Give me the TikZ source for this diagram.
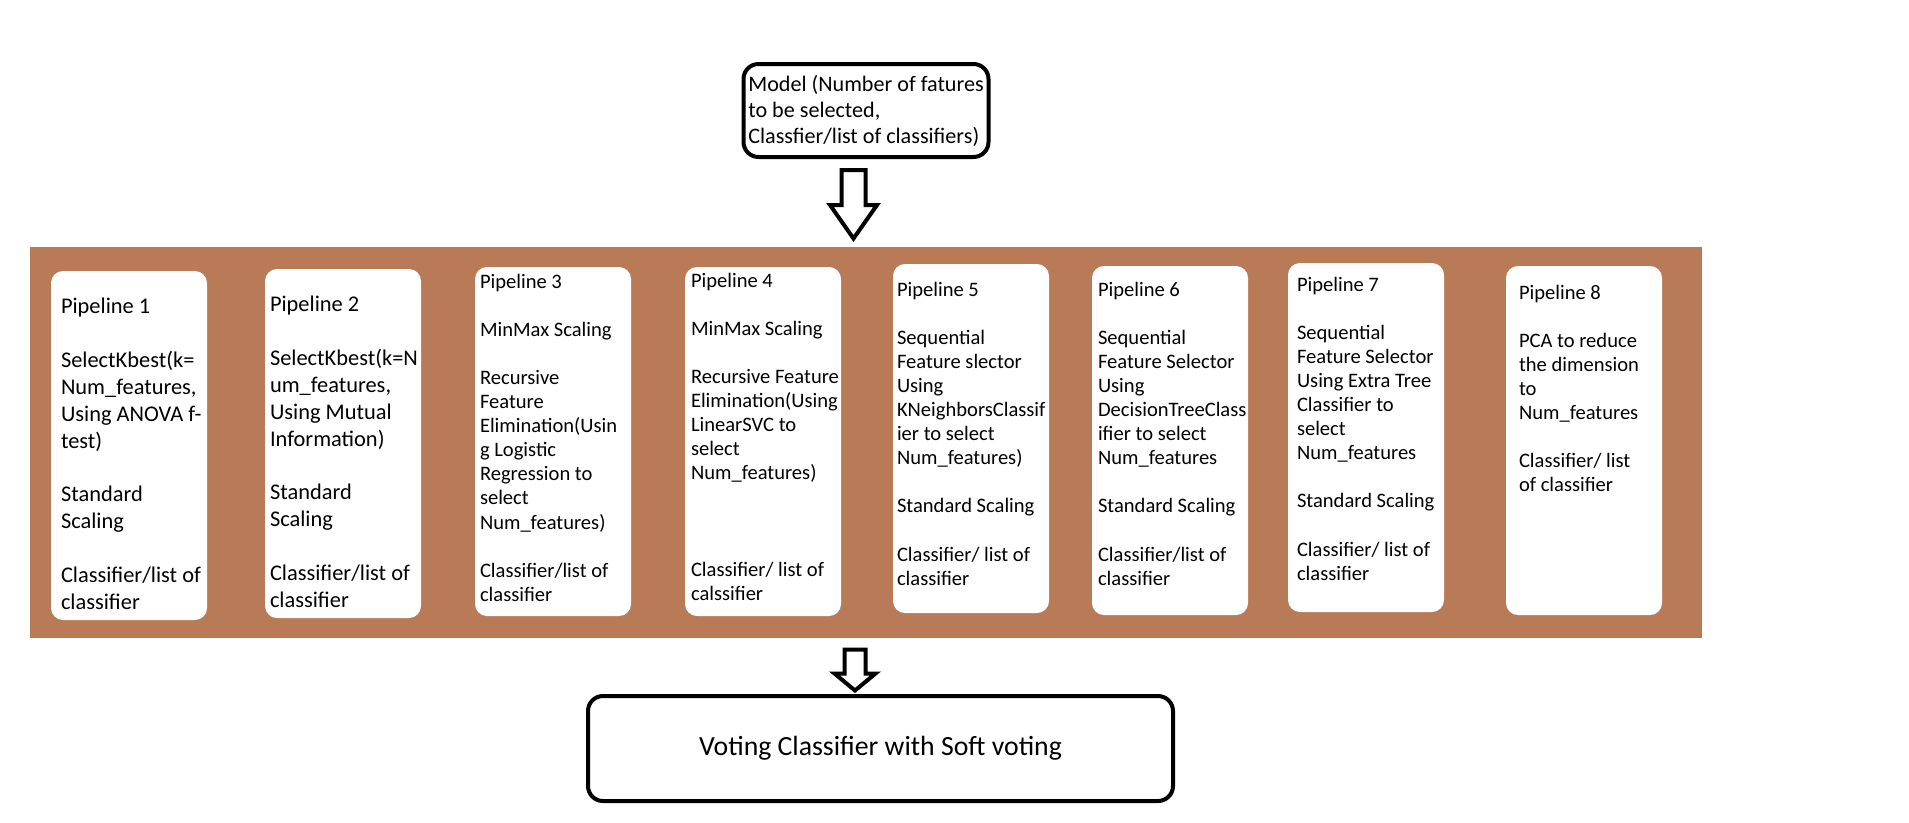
\documentclass[tikz,border=0pt]{standalone}
\usepackage{fontspec}
\setmainfont{Carlito}
\usepackage{xcolor}
\usetikzlibrary{positioning}
\definecolor{bandbrown}{RGB}{185,122,87}

\begin{document}
\begin{tikzpicture}[every node/.style={outer sep=0pt},
    band/.style={fill=bandbrown,draw=none},
    pipe/.style={fill=white,draw=none,rounded corners=0.24cm,minimum width=3.12cm,
    minimum height=6.98cm},
    txt/.style={align=left,inner sep=0pt,font=\fontsize{11.7}{13.7}\selectfont},
    bigtxt/.style={align=left,inner sep=0pt,font=\fontsize{12.75}{15.3}\selectfont},
    rbox/.style={draw,line width=0.08cm,rounded corners=0.3cm},
    pics/blockarrow/.style n args={4}{code={
    \draw[line width=0.08cm,fill=white] (0,0) -- (-#2,#3) -- (-#1,#3) -- (-#1,#4)
     -- (#1,#4) -- (#1,#3) -- (#2,#3) -- cycle;}}]
   
     \useasboundingbox (0,0) rectangle (38.18,-16.44);
   
     \node[band,minimum width=33.44cm,minimum height=7.82cm] (band) at (17.32,-8.85) {};
   
     % the eight pipelines
     \node[pipe,anchor=north west] (p1) at ([xshift=0.42cm,yshift=-0.48cm]band.north west) {};
     \node[pipe,right=1.16cm of p1,yshift=0.04cm] (p2) {};
     \node[pipe,right=1.08cm of p2,yshift=0.04cm] (p3) {};
     \node[pipe,right=1.08cm of p3] (p4) {};
     \node[pipe,right=1.04cm of p4,yshift=0.06cm] (p5) {};
     \node[pipe,right=0.86cm of p5,yshift=-0.04cm] (p6) {};
     \node[pipe,right=0.80cm of p6,yshift=0.06cm] (p7) {};
     \node[pipe,right=1.24cm of p7,yshift=-0.06cm] (p8) {};
   
     \node[bigtxt,below right=0.54cm and 0.2cm of p1.north west] (t1)
      {Pipeline 1\\[\baselineskip]SelectKbest(k=\\Num\_features,\\Using ANOVA f-\\test)\\[\baselineskip]
      Standard\\Scaling\\[\baselineskip]Classifier/list of\\classifier};
     \node[bigtxt,below right=0.54cm and 0.1cm of p2.north west] (t2)
      {Pipeline 2\\[\baselineskip]SelectKbest(k=N\\um\_features,\\Using Mutual\\Information)\\[\baselineskip]
      Standard\\Scaling\\[\baselineskip]Classifier/list of\\classifier};
     \node[txt,below right=0.14cm and 0.1cm of p3.north west] (t3)
      {Pipeline 3\\[\baselineskip]MinMax Scaling\\[\baselineskip]Recursive\\Feature\\Elimination(Usin\\
      g Logistic\\Regression to\\select\\Num\_features)\\[\baselineskip]Classifier/list of\\classifier};
     \node[txt,below right=0.12cm and 0.12cm of p4.north west] (t4)
      {Pipeline 4\\[\baselineskip]MinMax Scaling\\[\baselineskip]Recursive Feature\\Elimination(Using\\
      LinearSVC to\\select\\Num\_features)\\[3\baselineskip]Classifier/ list of\\calssifier};
     \node[txt,below right=0.36cm and 0.08cm of p5.north west] (t5)
      {Pipeline 5\\[\baselineskip]Sequential\\Feature slector\\Using\\KNeighborsClassif\\ier to select\\
      Num\_features)\\[\baselineskip]Standard Scaling\\[\baselineskip]Classifier/ list of\\classifier};
     \node[txt,below right=0.32cm and 0.12cm of p6.north west] (t6)
      {Pipeline 6\\[\baselineskip]Sequential\\Feature Selector\\Using\\DecisionTreeClass\\ifier to select\\
      Num\_features\\[\baselineskip]Standard Scaling\\[\baselineskip]Classifier/list of\\classifier};
     \node[txt,below right=0.28cm and 0.18cm of p7.north west] (t7)
      {Pipeline 7\\[\baselineskip]Sequential\\Feature Selector\\Using Extra Tree\\Classifier to\\select\\
      Num\_features\\[\baselineskip]Standard Scaling\\[\baselineskip]Classifier/ list of\\classifier};
     \node[txt,below right=0.38cm and 0.26cm of p8.north west] (t8)
      {Pipeline 8\\[\baselineskip]PCA to reduce\\the dimension\\to\\Num\_features\\[\baselineskip]
      Classifier/ list\\of classifier};
   
     \node[rbox,above=1.8cm of band,inner xsep=0.08cm,minimum width=4.9cm,minimum height=1.86cm,
      align=left,font=\fontsize{12.6}{14.8}\selectfont] (model)
      {Model (Number of fatures\\to be selected,\\Classfier/list of classifiers)};
     \node[rbox,below=1.16cm of band,xshift=0.29cm,minimum width=11.7cm,minimum height=2.1cm,
      font=\fontsize{15.8}{19}\selectfont] (vote) {Voting Classifier with Soft voting};
   
     \pic at ([xshift=-0.25cm,yshift=0.17cm]band.north) {blockarrow={0.24}{0.47}{0.67}{1.37}};
     \pic at ([xshift=-0.51cm,yshift=0.11cm]vote.north) {blockarrow={0.21}{0.41}{0.34}{0.82}};
   \end{tikzpicture}
\end{document}
